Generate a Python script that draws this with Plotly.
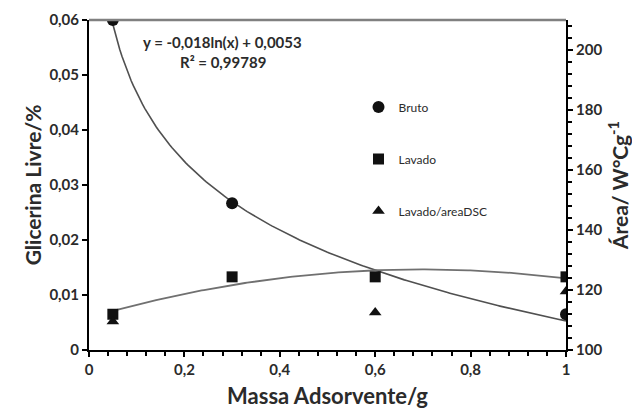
import numpy as np
import plotly.graph_objects as go

# ---- data ----
massa_bruto = [0.05, 0.3, 1.0]
glic_bruto = [0.060, 0.0267, 0.0065]

massa_lavado = [0.05, 0.3, 0.6, 1.0]
glic_lavado = [0.0065, 0.0133, 0.0133, 0.0133]

massa_dsc = [0.05, 0.6, 1.0]
area_dsc = [109.5, 112.5, 119.5]

log_a = -0.018
log_b = 0.0053
eq_text = "y = -0,018ln(x) + 0,0053"
r2_text = "R² = 0,99789"

FONT = "Lato"
TXT = "#2b2b2b"
AX = "black"
CLEAR = "rgba(0,0,0,0)"

xs = np.linspace(min(massa_bruto), max(massa_bruto), 200)
ys_log = log_a * np.log(xs) + log_b
poly = np.polyfit(massa_lavado, glic_lavado, 2)
xs_p = np.linspace(min(massa_lavado), max(massa_lavado), 200)
ys_poly = np.polyval(poly, xs_p)

fig = go.Figure()
fig.add_trace(go.Scatter(x=xs, y=ys_log, mode="lines",
                         line=dict(color="#505050", width=1.6), showlegend=False))
fig.add_trace(go.Scatter(x=xs_p, y=ys_poly, mode="lines",
                         line=dict(color="#707070", width=1.8), showlegend=False))
fig.add_trace(go.Scatter(x=massa_dsc, y=area_dsc, mode="markers", name="Lavado/areaDSC",
                         yaxis="y2", legendgroup="c", legendrank=3,
                         marker=dict(symbol="triangle-up", size=11, color="#111111")))
fig.add_trace(go.Scatter(x=massa_lavado, y=glic_lavado, mode="markers", name="Lavado",
                         legendgroup="b", legendrank=2,
                         marker=dict(symbol="square", size=11, color="#111111")))
fig.add_trace(go.Scatter(x=massa_bruto, y=glic_bruto, mode="markers", name="Bruto",
                         legendgroup="a", legendrank=1,
                         marker=dict(symbol="circle", size=12, color="#111111")))

tickfont = dict(family=FONT, size=15, color=TXT, weight="bold")
fig.update_layout(
    width=640, height=420,
    margin=dict(l=81, r=82, t=12, b=78),
    paper_bgcolor="white", plot_bgcolor="white",
    separators=",.",
    xaxis=dict(range=[0, 1], dtick=0.2, automargin=False,
               showgrid=True, gridcolor=CLEAR, zeroline=True, zerolinecolor=CLEAR,
               showline=True, linecolor=AX, linewidth=2, tickfont=tickfont,
               ticks="outside", ticklen=5, tickwidth=1.5, tickcolor=AX,
               minor=dict(dtick=0.04, ticks="outside", ticklen=4, tickcolor=AX),
               title=dict(text="Massa Adsorvente/g", standoff=12,
                          font=dict(family=FONT, size=22, color=TXT, weight="bold"))),
    yaxis=dict(range=[0, 0.06], dtick=0.01, showgrid=False, zeroline=False, automargin=False,
               showline=True, linecolor=AX, linewidth=2, tickfont=tickfont,
               ticks="outside", ticklen=5, tickwidth=1.5, tickcolor=AX,
               title=dict(text="Glicerina Livre/%", standoff=2,
                          font=dict(family=FONT, size=21, color=TXT, weight="bold"))),
    yaxis2=dict(range=[100, 210], dtick=20, tick0=100, overlaying="y", side="right", anchor="x",
                showgrid=True, gridcolor=CLEAR, zeroline=False, automargin=False,
                showline=True, linecolor=AX, linewidth=2, tickfont=tickfont,
                ticks="outside", ticklen=5, tickwidth=1.5, tickcolor=AX,
                minor=dict(dtick=4, ticks="outside", ticklen=4, tickcolor=AX),
                title=dict(text="Área/ W°Cg<sup>-1</sup>", standoff=12,
                           font=dict(family=FONT, size=21, color=TXT, weight="bold"))),
    legend=dict(x=0.565, y=0.78, xanchor="left", yanchor="top",
                bgcolor="rgba(0,0,0,0)", tracegroupgap=33, itemwidth=30,
                font=dict(family=FONT, size=12, color=TXT)),
    shapes=[dict(type="line", xref="paper", yref="paper", x0=0, x1=1, y0=1, y1=1,
                 line=dict(color="#808080", width=2.5))],
    annotations=[
        dict(text="<b>" + eq_text + "</b>", xref="paper", yref="paper", x=0.28, y=0.932,
             showarrow=False, xanchor="center", yanchor="middle",
             font=dict(family=FONT, size=15, color=TXT)),
        dict(text="<b>" + r2_text + "</b>", xref="paper", yref="paper", x=0.28, y=0.872,
             showarrow=False, xanchor="center", yanchor="middle",
             font=dict(family=FONT, size=15, color=TXT)),
    ],
)

fig.write_html("out.html")
